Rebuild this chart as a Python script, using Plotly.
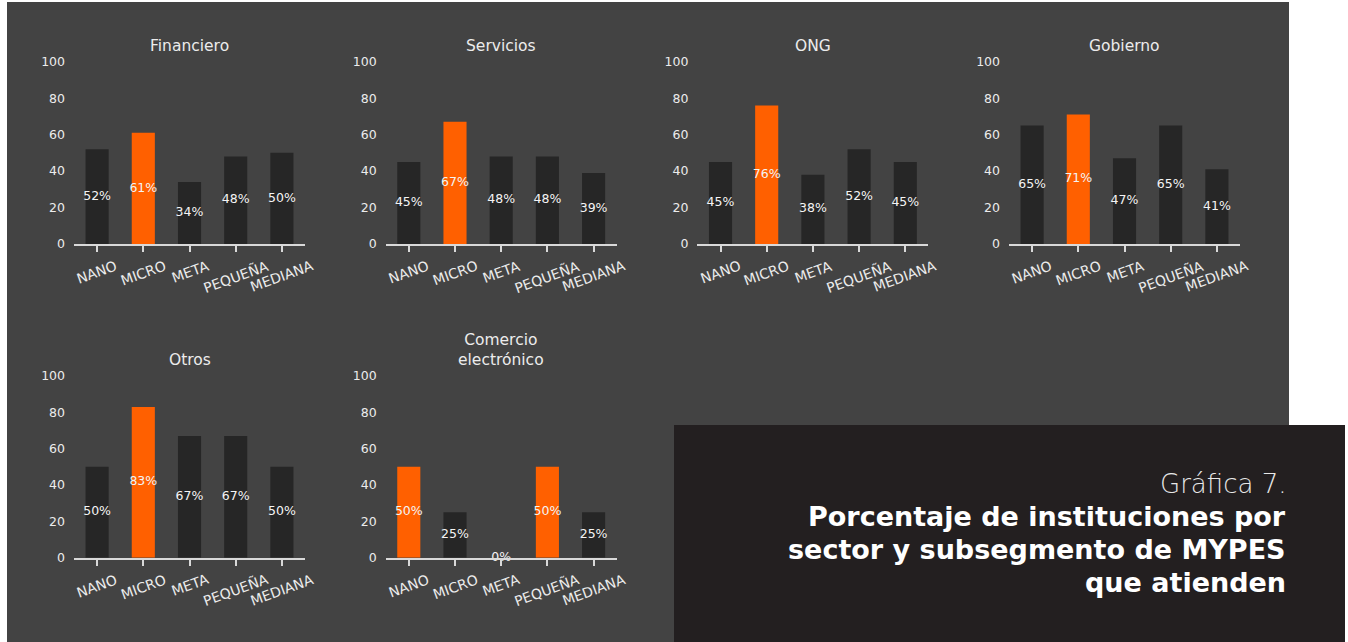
import plotly.graph_objects as go

categories = ["NANO", "MICRO", "META", "PEQUEÑA", "MEDIANA"]
sectors = ["Financiero", "Servicios", "ONG", "Gobierno", "Otros", "Comercio<br>electrónico"]
financiero = [52, 61, 34, 48, 50]
servicios = [45, 67, 48, 48, 39]
ong = [45, 76, 38, 52, 45]
gobierno = [65, 71, 47, 65, 41]
otros = [50, 83, 67, 67, 50]
comercio = [50, 25, 0, 50, 25]
y_ticks = [0, 20, 40, 60, 80, 100]
caption_small = "Gráfica 7."
caption_bold = ["Porcentaje de instituciones por", "sector y subsegmento de MYPES", "que atienden"]

series = [financiero, servicios, ong, gobierno, otros, comercio]

W, H = 1348, 642
BG = "#434343"
BAR = "#262626"
ORANGE = "#FF6000"
TXT = "#ececec"
FONT = "DejaVu Sans"


def fx(p):
    return p / W


def fy(p):
    return 1 - p / H


col_left = [74, 385.7, 697.4, 1009]
col_w = 231
rows = [(61.7, 244), (376, 557.7)]

fig = go.Figure()
annotations = []
layout_axes = {}

for i, (name, vals) in enumerate(zip(sectors, series)):
    r, c = divmod(i, 4)
    n = i + 1
    xa = "x" if n == 1 else f"x{n}"
    ya = "y" if n == 1 else f"y{n}"
    xkey = "xaxis" if n == 1 else f"xaxis{n}"
    ykey = "yaxis" if n == 1 else f"yaxis{n}"
    mx = max(vals)
    colors = [ORANGE if v == mx else BAR for v in vals]
    fig.add_trace(go.Bar(x=categories, y=vals, marker=dict(color=colors, line=dict(width=0)),
                         xaxis=xa, yaxis=ya, hoverinfo="skip", showlegend=False))
    fig.add_trace(go.Scatter(x=categories, y=[v / 2 for v in vals], mode="text",
                             text=[f"{v}%" for v in vals], textposition="middle center",
                             textfont=dict(family=FONT, size=12.5, color="#f4f4f4"),
                             cliponaxis=False,
                             xaxis=xa, yaxis=ya, hoverinfo="skip", showlegend=False))
    top, bot = rows[r]
    left = col_left[c]
    layout_axes[xkey] = dict(domain=[fx(left), fx(left + col_w)], anchor=ya,
                             range=[-0.5, len(categories) - 0.5],
                             showline=True, linecolor="#d9d9d9", linewidth=2,
                             ticks="outside", ticklen=6, tickwidth=1.5, tickcolor="#d9d9d9",
                             showticklabels=False, showgrid=False, zeroline=False,
                             automargin=False, fixedrange=True)
    layout_axes[ykey] = dict(domain=[fy(bot), fy(top)], anchor=xa, range=[0, 100],
                             tickvals=y_ticks, showgrid=False, zeroline=False, showline=False,
                             ticks="", ticklabelstandoff=8, automargin=False,
                             tickfont=dict(family=FONT, size=12.5, color=TXT), fixedrange=True)
    for cat in categories:
        annotations.append(dict(x=cat, y=0, xref=xa, yref=ya, text=cat, showarrow=False,
                                textangle=-20, yanchor="top", xanchor="center", yshift=-11,
                                font=dict(family=FONT, size=14, color=TXT)))
    annotations.append(dict(x=fx(left + col_w / 2), y=fy(top - 5), xref="paper", yref="paper",
                            text=name, showarrow=False, xanchor="center", yanchor="bottom",
                            font=dict(family=FONT, size=15.5, color=TXT)))

annotations.append(dict(x=fx(1288), y=fy(484), xref="paper", yref="paper", text=caption_small,
                        showarrow=False, xanchor="right", yanchor="middle", align="right",
                        font=dict(family=FONT, size=26, color="#e8e8e8", weight=200)))
for k, line in enumerate(caption_bold):
    annotations.append(dict(x=fx(1288), y=fy(516 + 33 * k), xref="paper", yref="paper",
                            text=line, showarrow=False, xanchor="right", yanchor="middle",
                            align="right",
                            font=dict(family=FONT, size=27, color="#ffffff", weight=700)))

shapes = [
    dict(type="rect", xref="paper", yref="paper", x0=fx(7), x1=fx(1289), y0=0, y1=fy(2),
         fillcolor=BG, line=dict(width=0), layer="below"),
    dict(type="rect", xref="paper", yref="paper", x0=fx(674), x1=fx(1345), y0=0, y1=fy(425),
         fillcolor="#231f20", line=dict(width=0), layer="below"),
]

fig.update_layout(width=W, height=H,
                  margin=dict(l=0, r=0, t=0, b=0, pad=0, autoexpand=False),
                  paper_bgcolor="white", plot_bgcolor="rgba(0,0,0,0)",
                  bargap=0.5, annotations=annotations, shapes=shapes,
                  font=dict(family=FONT), **layout_axes)

fig.write_html("out.html", config={"displayModeBar": False},
               post_script="document.body.style.margin='0';document.body.style.overflow='hidden';")
